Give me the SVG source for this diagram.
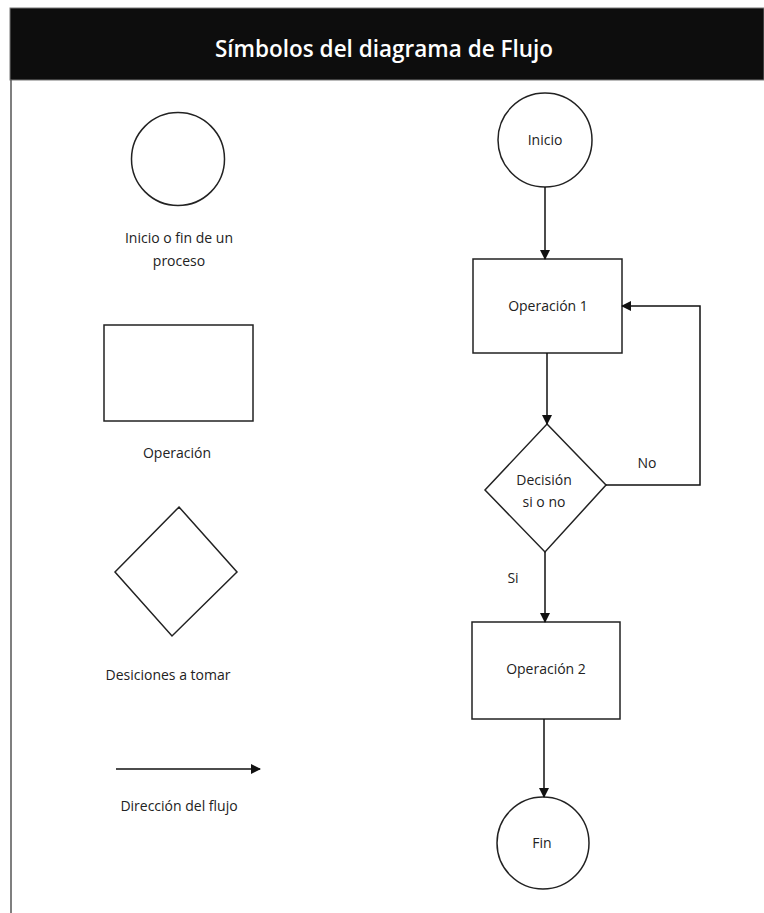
<svg xmlns="http://www.w3.org/2000/svg" width="764" height="913" viewBox="0 0 764 913">
<style>
.sh{fill:#fff;stroke:#222;stroke-width:1.5}
.t{font-family:"Open Sans","Noto Sans",sans-serif;font-size:14px;fill:#222;text-anchor:middle}
.c{stroke:#111;stroke-width:1.5;fill:none}
</style>
<defs>
<marker id="ah" viewBox="0 0 10 10" refX="9" refY="5" markerWidth="10" markerHeight="10" markerUnits="userSpaceOnUse" orient="auto">
<path d="M0,0 L10,5 L0,10 z" fill="#111"/>
</marker>
</defs>
<rect width="764" height="913" fill="#fff"/>
<g id="header">
<rect x="10" y="8" width="754" height="72" fill="#0d0d0d" stroke="#777" stroke-width="1"/>
<text x="384" y="57" font-family="'Open Sans','Noto Sans',sans-serif" font-weight="600" font-size="22.5" fill="#fff" text-anchor="middle">Símbolos del diagrama de Flujo</text>
</g>
<line x1="11" y1="80" x2="11" y2="913" stroke="#555" stroke-width="1.5"/>
<g id="legend-circle">
<circle class="sh" cx="178" cy="159" r="46.5"/>
<text class="t" x="179" y="243">Inicio o fin de un</text>
<text class="t" x="179" y="266">proceso</text>
</g>
<g id="legend-rect">
<rect class="sh" x="104" y="325" width="149" height="96"/>
<text class="t" x="177" y="458">Operación</text>
</g>
<g id="legend-diamond">
<polygon class="sh" points="179,507 237,572 172,636 115,572"/>
<text class="t" x="168" y="680">Desiciones a tomar</text>
</g>
<g id="legend-arrow">
<line class="c" x1="116" y1="769" x2="260" y2="769" marker-end="url(#ah)"/>
<text class="t" x="179" y="811">Dirección del flujo</text>
</g>
<g id="inicio">
<circle class="sh" cx="545" cy="140" r="47"/>
<text class="t" x="545" y="145">Inicio</text>
</g>
<g id="op1">
<rect class="sh" x="473" y="259" width="149" height="94"/>
<text class="t" x="548" y="311">Operación 1</text>
</g>
<g id="decision">
<polygon class="sh" points="547,424 606,485 545,552 485,490"/>
<text class="t" x="544" y="485">Decisión</text>
<text class="t" x="544" y="507">si o no</text>
</g>
<g id="op2">
<rect class="sh" x="472" y="622" width="148" height="97"/>
<text class="t" x="546" y="674">Operación 2</text>
</g>
<g id="fin">
<circle class="sh" cx="543" cy="843" r="46"/>
<text class="t" x="542" y="848">Fin</text>
</g>
<g id="connectors">
<line class="c" x1="545" y1="187" x2="545" y2="259" marker-end="url(#ah)"/>
<line class="c" x1="547" y1="353" x2="547" y2="424" marker-end="url(#ah)"/>
<polyline class="c" points="606,485 700,485 700,306 622,306" marker-end="url(#ah)"/>
<line class="c" x1="545" y1="552" x2="545" y2="622" marker-end="url(#ah)"/>
<line class="c" x1="544" y1="719" x2="544" y2="797" marker-end="url(#ah)"/>
<text class="t" x="647" y="468">No</text>
<text class="t" x="513" y="583">Si</text>
</g>
</svg>
